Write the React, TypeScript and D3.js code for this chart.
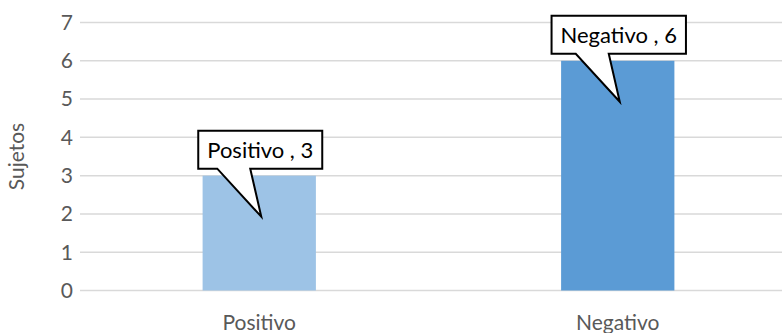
import React, { useEffect, useRef } from "react";
import * as d3 from "d3";

const categories = ["Positivo", "Negativo"];
const values = [3, 6];
const yTicks = [0, 1, 2, 3, 4, 5, 6, 7];
const barColors = ["#9dc3e6", "#5b9bd5"];
const yTitle = "Sujetos";

const W = 782;
const H = 333;
const FONT = "Lato, 'Open Sans', sans-serif";

const App = () => {
  const svgRef = useRef<SVGSVGElement>(null);

  useEffect(() => {
    document.body.style.margin = "0";
    const svg = d3.select(svgRef.current);
    svg.selectAll("*").remove();

    const x = d3.scaleBand().domain(categories).range([80, 797]).padding(0);
    const y = d3.scaleLinear().domain([0, 7]).range([290.5, 22.5]);
    const barW = x.bandwidth() * 0.316;

    // gridlines
    svg
      .selectAll(".grid")
      .data(yTicks)
      .enter()
      .append("line")
      .attr("x1", 80)
      .attr("x2", W)
      .attr("y1", (d) => y(d))
      .attr("y2", (d) => y(d))
      .attr("stroke", "#d9d9d9")
      .attr("stroke-width", 1.5);

    // tick labels
    svg
      .selectAll(".ytick")
      .data(yTicks)
      .enter()
      .append("text")
      .attr("x", 73)
      .attr("y", (d) => y(d))
      .attr("dy", "0.35em")
      .attr("text-anchor", "end")
      .attr("font-family", FONT)
      .attr("font-size", 21)
      .attr("fill", "#595959")
      .text((d) => d);

    svg
      .append("text")
      .attr("transform", `translate(24,${(y(0) + y(7)) / 2}) rotate(-90)`)
      .attr("text-anchor", "middle")
      .attr("font-family", FONT)
      .attr("font-size", 21)
      .attr("fill", "#595959")
      .text(yTitle);

    // bars
    svg
      .selectAll(".bar")
      .data(values)
      .enter()
      .append("rect")
      .attr("x", (d, i) => x(categories[i])! + x.bandwidth() / 2 - barW / 2)
      .attr("y", (d) => y(d))
      .attr("width", barW)
      .attr("height", (d) => y(0) - y(d))
      .attr("fill", (d, i) => barColors[i]);

    // category labels
    svg
      .selectAll(".cat")
      .data(categories)
      .enter()
      .append("text")
      .attr("x", (d) => x(d)! + x.bandwidth() / 2)
      .attr("y", 330)
      .attr("text-anchor", "middle")
      .attr("font-family", FONT)
      .attr("font-size", 21)
      .attr("fill", "#595959")
      .text((d) => d);

    // callouts
    values.forEach((v, i) => {
      const cx = x(categories[i])! + x.bandwidth() / 2;
      const bottom = y(v) - 7;
      const top = bottom - 38;
      const g = svg.append("g");
      const path = g.append("path");
      const label = g
        .append("text")
        .attr("x", cx + 1)
        .attr("y", (top + bottom) / 2)
        .attr("dy", "0.36em")
        .attr("text-anchor", "middle")
        .attr("font-family", FONT)
        .attr("font-size", 22)
        .attr("fill", "#000")
        .text(`${categories[i]} , ${v}`);
      const tw = (label.node() as SVGTextElement).getComputedTextLength();
      const left = cx + 1 - tw / 2 - 9;
      const right = cx + 1 + tw / 2 + 9;
      const p = d3.path();
      p.moveTo(left, top);
      p.lineTo(right, top);
      p.lineTo(right, bottom);
      p.lineTo(cx - 9, bottom);
      p.lineTo(cx + 2, bottom + 48);
      p.lineTo(cx - 42, bottom);
      p.lineTo(left, bottom);
      p.closePath();
      path
        .attr("d", p.toString())
        .attr("fill", "#fff")
        .attr("stroke", "#000")
        .attr("stroke-width", 2)
        .attr("stroke-linejoin", "miter");
    });
  }, []);

  return (
    <svg
      ref={svgRef}
      width={W}
      height={H}
      style={{ display: "block", position: "absolute", left: 0, top: 0, background: "#fff" }}
    ></svg>
  );
};

export default App;
